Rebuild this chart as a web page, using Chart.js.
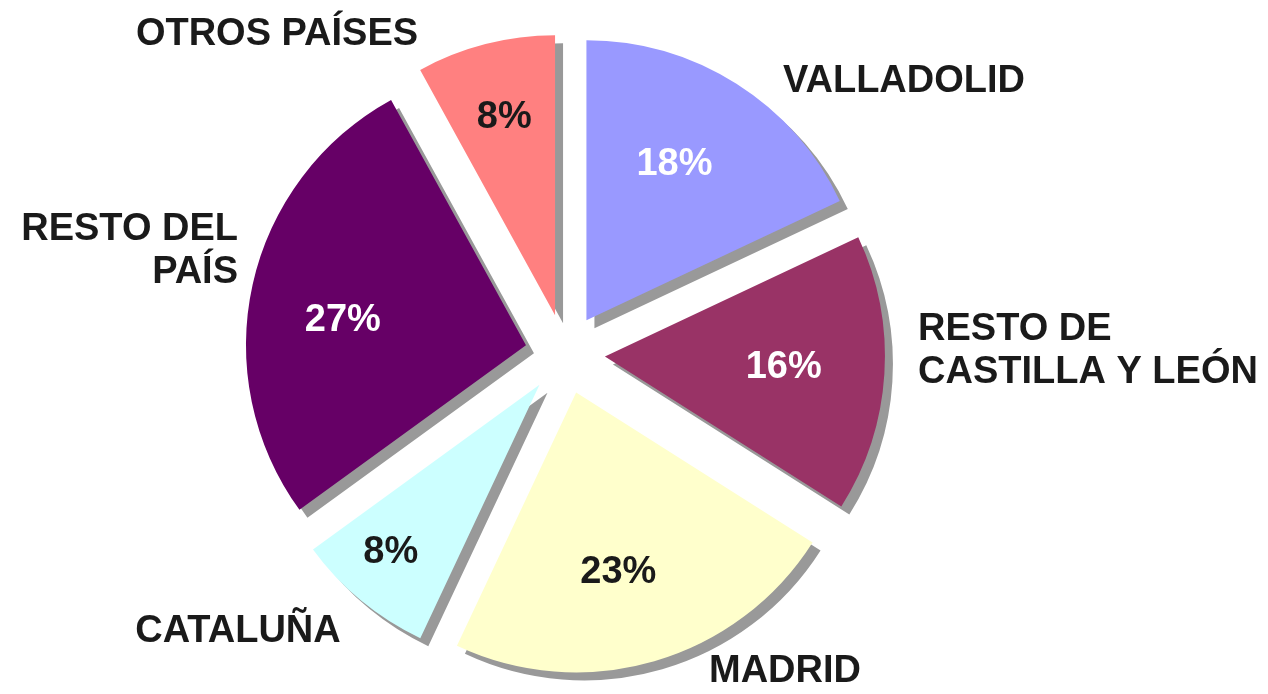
<!DOCTYPE html>
<html>
<head>
  <meta charset="utf-8">
  <title>Procedencia</title>
  <script src="https://cdn.jsdelivr.net/npm/chart.js"></script>
  <style>
    body { margin: 0; background: #fff; }
    canvas { display: block; }
  </style>
</head>
<body>
  <canvas id="pie" width="1268" height="694"></canvas>

  <script>
    // data, clockwise from 12 o'clock
    const labels = [
      ['VALLADOLID'],
      ['RESTO DE', 'CASTILLA Y LEÓN'],
      ['MADRID'],
      ['CATALUÑA'],
      ['RESTO DEL', 'PAÍS'],
      ['OTROS PAÍSES']
    ];
    const values = [18, 16, 23, 8, 27, 8];
    const colors = ['#9999ff', '#993366', '#ffffcc', '#ccffff', '#660066', '#ff8080'];
    const pctColors = ['#ffffff', '#ffffff', '#1a1a1a', '#1a1a1a', '#ffffff', '#1a1a1a'];

    // layout of the text (not data)
    const pctRadius = [0.64, 0.64, 0.66, 0.80, 0.66, 0.73];
    const pctTurn = [-3, 0, 3, 2, -5, 0]; // degrees off the slice middle
    const nameSpots = [
      { dx: 339, dy: -272, align: 'center' },
      { dx: 353, dy: -24, align: 'left' },
      { dx: 220, dy: 318, align: 'center' },
      { dx: -327, dy: 278, align: 'center' },
      { dx: -327, dy: -124, align: 'right' },
      { dx: -288, dy: -319, align: 'center' }
    ];
    const EXPLODE = 40;
    const FONT = 'bold 38px "Liberation Sans", Arial, sans-serif';

    const explodedPie = {
      id: 'explodedPie',
      beforeDatasetDraw(chart, args) {
        const ctx = chart.ctx;
        const arcs = args.meta.data;
        // shadow pass, then the slices on top
        for (const pass of ['shadow', 'fill']) {
          arcs.forEach(arc => {
            const mid = (arc.startAngle + arc.endAngle) / 2;
            ctx.save();
            ctx.translate(Math.cos(mid) * EXPLODE, Math.sin(mid) * EXPLODE);
            if (pass === 'shadow') {
              ctx.translate(8, 8);
              const bg = arc.options.backgroundColor;
              arc.options.backgroundColor = '#999999';
              arc.draw(ctx, chart.chartArea);
              arc.options.backgroundColor = bg;
            } else {
              arc.draw(ctx, chart.chartArea);
            }
            ctx.restore();
          });
        }
        return false;
      },
      afterDraw(chart) {
        const ctx = chart.ctx;
        const arcs = chart.getDatasetMeta(0).data;
        ctx.save();
        ctx.font = FONT;
        ctx.textBaseline = 'middle';
        arcs.forEach((arc, i) => {
          const mid = (arc.startAngle + arc.endAngle) / 2;
          const a = mid + pctTurn[i] * Math.PI / 180;
          const r = arc.outerRadius * pctRadius[i];
          const px = arc.x + Math.cos(mid) * EXPLODE + Math.cos(a) * r;
          const py = arc.y + Math.sin(mid) * EXPLODE + Math.sin(a) * r;
          ctx.textAlign = 'center';
          ctx.fillStyle = pctColors[i];
          ctx.fillText(values[i] + '%', px, py);

          const s = nameSpots[i];
          ctx.textAlign = s.align;
          ctx.fillStyle = '#1a1a1a';
          labels[i].forEach((line, k) => {
            ctx.fillText(line, arc.x + s.dx, arc.y + s.dy + k * 43);
          });
        });
        ctx.restore();
      }
    };

    new Chart(document.getElementById('pie'), {
      type: 'pie',
      data: {
        labels: labels.map(l => l.join(' ')),
        datasets: [{
          data: values,
          backgroundColor: colors,
          borderWidth: 0,
          radius: 280
        }]
      },
      options: {
        responsive: false,
        animation: false,
        events: [],
        layout: { padding: { left: 0, right: 138, top: 14, bottom: 0 } },
        plugins: {
          legend: { display: false },
          tooltip: { enabled: false }
        }
      },
      plugins: [explodedPie]
    });
  </script>
</body>
</html>
